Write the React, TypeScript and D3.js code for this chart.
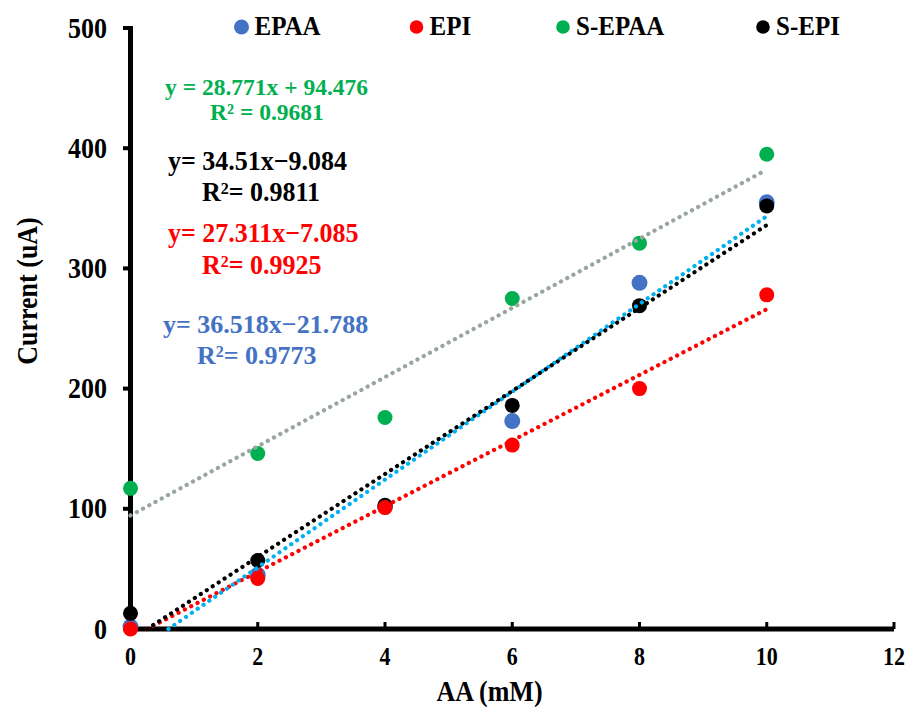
import React from "react";
import * as d3 from "d3";

const xValues = [0, 2, 4, 6, 8, 10];
const epaa = [2, 45, 102, 173, 288, 355];
const epi = [0, 42, 101, 153, 200, 278];
const sEpaa = [117, 146, 176, 275, 321, 395];
const sEpi = [13, 57, 103, 186, 269, 352];

const seriesNames = ["EPAA", "EPI", "S-EPAA", "S-EPI"];
const markerColors = ["#4472C4", "#FF0000", "#00B050", "#000000"];
const trendColors = ["#00B0F0", "#FF0000", "#98A69F", "#000000"];
const trendSlopes = [36.518, 27.311, 28.771, 34.51];
const trendIntercepts = [-21.788, -7.085, 94.476, -9.084];

const xTicks = [0, 2, 4, 6, 8, 10, 12];
const yTicks = [0, 100, 200, 300, 400, 500];

const W = 907;
const H = 711;
const FONT = "'Times New Roman', 'Liberation Serif', serif";
const SY = 1.12;

function T(props: any) {
  const { x, y, rotate, sy, children, ...rest } = props;
  const s = sy === undefined ? SY : sy;
  const tr = `translate(${x},${y})${rotate ? ` rotate(${rotate})` : ""} scale(1,${s})`;
  return (
    <text transform={tr} fontFamily={FONT} fontWeight="bold" {...rest}>
      {children}
    </text>
  );
}

export default function App() {
  const x = d3.scaleLinear().domain([0, 12]).range([130.5, 894]);
  const y = d3.scaleLinear().domain([0, 500]).range([629, 28]);
  const allSeries = [epaa, epi, sEpaa, sEpi];
  const drawOrder = [0, 3, 1, 2];
  const radii = [8, 7.5, 7.5, 7.5];

  const line = d3
    .line<[number, number]>()
    .x((d) => x(d[0]))
    .y((d) => y(d[1]));

  const trendPaths = trendSlopes.map((m, i) => {
    const b = trendIntercepts[i];
    const x0 = Math.max(0, -b / m);
    const x1 = 10;
    return line([
      [x0, m * x0 + b],
      [x1, m * x1 + b],
    ]);
  });

  const legendX = [241.5, 416.5, 563, 763];

  return (
    <div style={{ position: "absolute", left: 0, top: 0 }}>
      <svg width={W} height={H} style={{ display: "block", background: "#fff" }}>
        {/* axes */}
        <line x1={x(0)} x2={x(0)} y1={26} y2={631.5} stroke="#000" strokeWidth={5} />
        <line x1={128} x2={x(12)} y1={y(0)} y2={y(0)} stroke="#000" strokeWidth={5} />
        {yTicks.map((t) => (
          <g key={"yt" + t}>
            <line x1={123} x2={130} y1={y(t)} y2={y(t)} stroke="#000" strokeWidth={4} />
            <T x={107} y={y(t) + 9.5} textAnchor="end" fontSize={26}>
              {t}
            </T>
          </g>
        ))}
        {xTicks.map((t) => (
          <g key={"xt" + t}>
            <line x1={x(t)} x2={x(t)} y1={622} y2={629} stroke="#000" strokeWidth={3} />
            <T x={x(t)} y={665} textAnchor="middle" fontSize={22}>
              {t}
            </T>
          </g>
        ))}
        <T x={489.5} y={701} textAnchor="middle" fontSize={26}>
          AA (mM)
        </T>
        <T x={37} y={291} rotate={-90} textAnchor="middle" fontSize={26}>
          Current (uA)
        </T>

        {/* markers */}
        {drawOrder.map((si) => (
          <g key={"s" + si}>
            {allSeries[si].map((v, j) => (
              <circle
                key={j}
                cx={x(xValues[j])}
                cy={y(v)}
                r={radii[si]}
                fill={markerColors[si]}
              />
            ))}
          </g>
        ))}

        {/* trendlines */}
        {[2, 1, 0, 3].map((i) => (
          <path
            key={"tr" + i}
            d={trendPaths[i] || ""}
            fill="none"
            stroke={trendColors[i]}
            strokeWidth={4.2}
            strokeLinecap="round"
            strokeDasharray="0.1 7"
          />
        ))}

        {/* legend */}
        {seriesNames.map((n, i) => (
          <g key={"lg" + i}>
            <circle cx={legendX[i]} cy={27} r={i === 0 ? 7.5 : 6.8} fill={markerColors[i]} />
            <T x={legendX[i] + 13} y={35} fontSize={25} fill="#000">
              {n}
            </T>
          </g>
        ))}

        {/* equations */}
        <T x={165} y={95} sy={1} fontSize={23.5} fill="#00B050">
          y = 28.771x + 94.476
        </T>
        <T x={210} y={120} sy={1} fontSize={23.5} fill="#00B050">
          R² = 0.9681
        </T>

        <T x={168} y={170} sy={1.05} fontSize={26} fill="#000">
          y= 34.51x−9.084
        </T>
        <T x={202} y={201} sy={1.05} fontSize={26} fill="#000">
          R<tspan dy={-7} fontSize={16}>2</tspan>
          <tspan dy={7}>= 0.9811</tspan>
        </T>

        <T x={168} y={242} sy={1.05} fontSize={26} fill="#FF0000">
          y= 27.311x−7.085
        </T>
        <T x={202} y={274} sy={1.05} fontSize={26} fill="#FF0000">
          R<tspan dy={-7} fontSize={16}>2</tspan>
          <tspan dy={7}>= 0.9925</tspan>
        </T>

        <T x={163} y={333} sy={1} fontSize={26} fill="#4472C4">
          y= 36.518x−21.788
        </T>
        <T x={197} y={364} sy={1} fontSize={26} fill="#4472C4">
          R<tspan dy={-7} fontSize={16}>2</tspan>
          <tspan dy={7}>= 0.9773</tspan>
        </T>
      </svg>
    </div>
  );
}
